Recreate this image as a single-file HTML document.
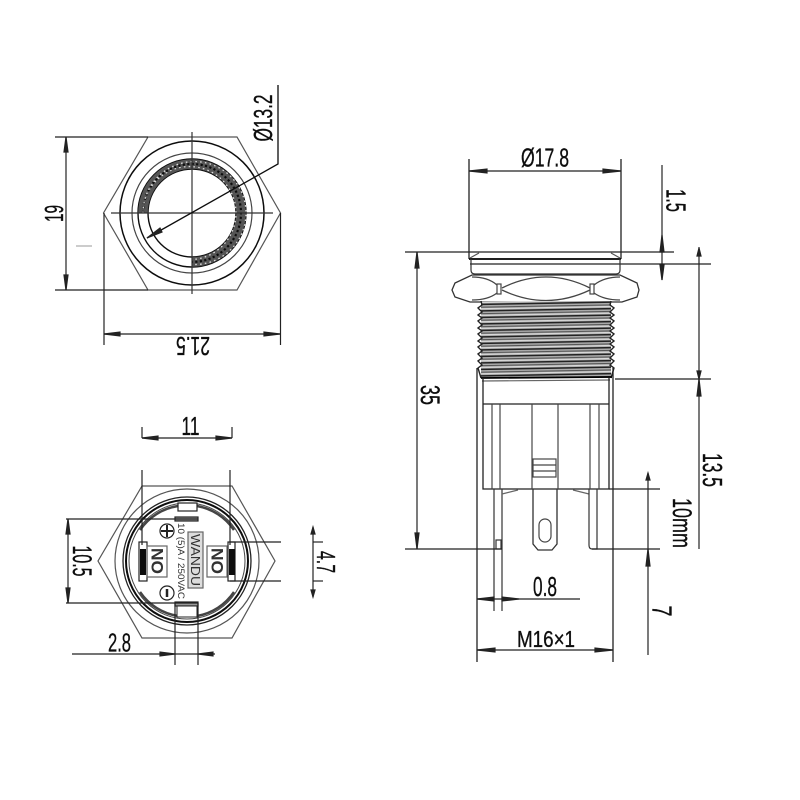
<!DOCTYPE html>
<html><head><meta charset="utf-8"><style>
html,body{margin:0;padding:0;background:#fff}
svg{display:block}
text{font-family:"Liberation Sans",sans-serif;fill:#111;stroke:#111;stroke-width:.35;text-anchor:middle;dominant-baseline:central}
text.s{fill:#333;stroke:none}
</style></head><body>
<svg width="800" height="800" viewBox="0 0 800 800" xmlns="http://www.w3.org/2000/svg">
<defs>
<filter id="b" x="-5%" y="-5%" width="110%" height="110%"><feGaussianBlur stdDeviation="0.35"/></filter>
<pattern id="th" width="20" height="6.5" patternUnits="userSpaceOnUse" patternTransform="rotate(-1)">
<rect width="20" height="6.5" fill="#aaa"/><rect y="0" width="20" height="1.5" fill="#222"/><rect y="3" width="20" height="1.1" fill="#555"/><rect y="4.8" width="20" height=".8" fill="#eee"/>
</pattern>
</defs>
<g filter="url(#b)" fill="none" stroke="#222" stroke-width="1.2">

<!-- TOP VIEW -->
<polygon points="148,137 237,137 280.5,213 237,290 148,290 103.5,213" stroke="#555"/>
<circle cx="192" cy="213" r="72" stroke-width="1.5" stroke="#111"/>
<circle cx="192" cy="213" r="60" stroke="#444"/>
<circle cx="192" cy="213" r="54" stroke-width="1.4" stroke="#111"/>
<circle cx="192" cy="213" r="44" stroke-width="1.4" stroke="#111"/>
<path d="M143,213 A49,49 0 1 1 192,262" stroke="#555" stroke-width="9.5"/>
<path d="M143,213 A46.5,46.5 0 1 1 192,259.5" stroke="#ddd" stroke-width="1.3" stroke-dasharray="1.6 3.2"/>
<path d="M143,213 A49,49 0 1 1 192,262" stroke="#111" stroke-width="2.2" stroke-dasharray="2.2 2.3"/>
<path d="M143,213 A51.5,51.5 0 1 1 192,264.5" stroke="#ddd" stroke-width="1.3" stroke-dasharray="1.6 3.2"/>
<line x1="192" y1="132" x2="192" y2="294" stroke="#333"/>
<line x1="111" y1="213" x2="273" y2="213" stroke="#333"/>
<line x1="55" y1="137" x2="148" y2="137"/>
<line x1="55" y1="290" x2="148" y2="290"/>
<line x1="66" y1="137" x2="66" y2="290"/>
<polygon points="66,137 64,152 68,152" fill="#222"/>
<polygon points="66,290 64,275 68,275" fill="#222"/>
<line x1="104" y1="213" x2="104" y2="345"/>
<line x1="280.5" y1="213" x2="280.5" y2="345"/>
<line x1="104" y1="334" x2="280" y2="334"/>
<polygon points="104,334 120,332 120,336" fill="#222"/>
<polygon points="280,334 264,332 264,336" fill="#222"/>
<polyline points="147,238 278,164 278,85" stroke="#111" stroke-width="1.3"/>
<polygon points="147,238 160,228 162,232" fill="#222"/>
<line x1="76" y1="246" x2="92" y2="246" stroke="#aaa"/>

<!-- BOTTOM VIEW -->
<polygon points="142,486 232,486 275,561 232,638 142,638 98,561" stroke="#555"/>
<circle cx="187" cy="561" r="72" stroke="#555"/>
<circle cx="187" cy="561" r="64" stroke-width="1.3"/>
<circle cx="187" cy="561" r="61" stroke-width="2" stroke="#111"/>
<circle cx="187" cy="561" r="58" stroke-width="1" stroke="#444"/>
<path d="M140,530 A56,56 0 0 1 178,506 M197,506 A56,56 0 0 1 234,530 M140,592 A56,56 0 0 0 178,616 M197,616 A56,56 0 0 0 234,592" stroke="#444" stroke-width="2.5"/>
<rect x="178" y="503" width="19" height="8" fill="#fff" stroke-width="1.2"/>
<rect x="175" y="517" width="23" height="4" fill="#999" stroke-width="1.2"/>
<rect x="175" y="602" width="23" height="4" fill="#999" stroke-width="1.2"/>
<rect x="177" y="606" width="20" height="11" fill="#fff" stroke-width="1"/>
<rect x="139" y="542" width="8" height="39" fill="#fff"/>
<rect x="140" y="549" width="6" height="26" fill="#111" stroke="none"/>
<rect x="228" y="542" width="7" height="39" fill="#fff"/>
<rect x="229" y="549" width="6" height="26" fill="#111" stroke="none"/>
<rect x="147" y="546" width="20" height="31" stroke="#666"/>
<rect x="207" y="546" width="20" height="31" stroke="#666"/>
<rect x="188" y="532" width="15" height="56" stroke="#666" fill="#ddd"/>
<circle cx="167" cy="531" r="7"/>
<line x1="161" y1="531" x2="173" y2="531" stroke-width="2"/>
<line x1="167" y1="525" x2="167" y2="537" stroke-width="2"/>
<circle cx="167" cy="593" r="7"/>
<line x1="167" y1="589" x2="167" y2="597" stroke-width="2.5"/>
<line x1="142" y1="470" x2="142" y2="545"/>
<line x1="230" y1="470" x2="230" y2="545"/>
<line x1="142" y1="427" x2="142" y2="438"/>
<line x1="232" y1="427" x2="232" y2="438"/>
<line x1="142" y1="438" x2="232" y2="438"/>
<polygon points="142,438 158,436 158,440" fill="#222"/>
<polygon points="232,438 216,436 216,440" fill="#222"/>
<line x1="66" y1="519" x2="198" y2="519"/>
<line x1="66" y1="603" x2="198" y2="603"/>
<line x1="68" y1="519" x2="68" y2="603"/>
<polygon points="68,519 66,534 70,534" fill="#222"/>
<polygon points="68,603 66,588 70,588" fill="#222"/>
<line x1="230" y1="542" x2="281" y2="542"/>
<line x1="230" y1="581" x2="281" y2="581"/>
<line x1="313" y1="527" x2="313" y2="597"/>
<line x1="313" y1="542" x2="323" y2="542"/>
<line x1="313" y1="581" x2="323" y2="581"/>
<polygon points="313,527 311,534 315,534" fill="#222"/>
<polygon points="313,597 311,590 315,590" fill="#222"/>
<line x1="175" y1="603" x2="175" y2="665"/>
<line x1="198" y1="603" x2="198" y2="665"/>
<line x1="72" y1="654" x2="215" y2="654"/>
<polygon points="175,654 160,652 160,656" fill="#222"/>
<polygon points="198,654 213,652 213,656" fill="#222"/>

<!-- SIDE VIEW -->
<line x1="469" y1="159" x2="469" y2="259" stroke-width="1.3"/>
<line x1="621" y1="159" x2="621" y2="259" stroke-width="1.3"/>
<line x1="469" y1="171" x2="621" y2="171"/>
<polygon points="469,171 487,169 487,173" fill="#222"/>
<polygon points="621,171 603,169 603,173" fill="#222"/>
<line x1="405" y1="252" x2="674" y2="252"/>
<line x1="469" y1="259" x2="621" y2="259" stroke-width="1.8" stroke="#000"/>
<path d="M470,258 L479,253 M620,258 L611,253" stroke="#555"/>
<line x1="470" y1="264" x2="711" y2="264"/>
<path d="M471,259 V270 Q471,274 475,274 H616 Q620,274 620,270 V259" stroke="#333"/>
<line x1="662" y1="165" x2="662" y2="280"/>
<polygon points="662,235 660,252 664,252" fill="#222"/>
<polygon points="662,280 660,265 664,265" fill="#222"/>
<!-- nut -->
<path d="M472,275 H620 L637,283 L639,290 L637,297 L622,302 H470 L455,297 L452,290 L455,283 Z" stroke="#333" stroke-width="1.3" fill="#fff"/>
<path d="M472,277 Q488,277 497,285 M472,300 Q488,300 497,293 M620,277 Q604,277 594,285 M620,300 Q604,300 594,293" stroke="#444"/>
<path d="M502,288 Q546,266 590,288 M502,290 Q546,311 590,290" stroke="#444" stroke-width="1.3"/>
<rect x="497" y="284" width="4" height="10" stroke="#444"/>
<rect x="590" y="284" width="4" height="10" stroke="#444"/>
<!-- thread -->
<rect x="481" y="301" width="130" height="77" fill="url(#th)" stroke="none"/>
<path d="M481,301 L482,305 L478,308 L482,312 L478,315 L482,318 L478,321 L482,325 L478,328 L482,331 L478,334 L482,338 L478,341 L482,344 L478,347 L482,351 L478,354 L482,358 L478,361 L482,365 L478,368 L481,378" stroke-width="1.4" stroke="#222"/>
<path d="M611,301 L610,305 L614,308 L610,312 L614,315 L610,318 L614,321 L610,325 L614,328 L610,331 L614,334 L610,338 L614,341 L610,344 L614,347 L610,351 L614,354 L610,358 L614,361 L610,365 L614,368 L611,378" stroke-width="1.4" stroke="#222"/>
<line x1="481" y1="378" x2="612" y2="377" stroke-width="1.8" stroke="#000"/>
<line x1="482" y1="381" x2="610" y2="380" stroke="#666"/>
<line x1="615" y1="379" x2="711" y2="379"/>
<!-- body -->
<line x1="477" y1="368" x2="477" y2="662" stroke="#222" stroke-width="1.3"/>
<line x1="613" y1="368" x2="613" y2="662" stroke="#222" stroke-width="1.3"/>
<path d="M483,378 V489 H609 V378" stroke-width="1.3"/>
<line x1="483" y1="404" x2="609" y2="404"/>
<line x1="492" y1="404" x2="492" y2="489" stroke="#444"/>
<line x1="500" y1="404" x2="500" y2="489" stroke="#444"/>
<line x1="532" y1="404" x2="532" y2="489" stroke="#444"/>
<line x1="558" y1="404" x2="558" y2="489" stroke="#444"/>
<line x1="590" y1="404" x2="590" y2="489" stroke="#444"/>
<line x1="599" y1="404" x2="599" y2="489" stroke="#444"/>
<rect x="533" y="459" width="23" height="18" stroke="#444" stroke-width="1.2"/>
<line x1="533" y1="465" x2="556" y2="465" stroke="#444"/>
<line x1="533" y1="471" x2="556" y2="471" stroke="#444"/>
<path d="M533,489 V544 L538,550 H552 L557,544 V489" stroke="#333" stroke-width="1.3"/>
<rect x="539" y="519" width="12" height="23" rx="6" stroke="#444" stroke-width="1.2"/>
<path d="M494,489 V611 M502,489 V611" stroke="#333"/>
<rect x="496" y="540" width="5" height="9" stroke="#333"/>
<path d="M502,494 L518,490 M589,494 L573,490" stroke="#666"/>
<path d="M589,489 V545 Q589,549 592,549 H597 V489" stroke="#333"/>
<line x1="405" y1="549" x2="502" y2="549"/>
<line x1="592" y1="549" x2="660" y2="549"/>
<line x1="609" y1="489" x2="660" y2="489"/>
<line x1="417" y1="252" x2="417" y2="549"/>
<polygon points="417,252 415,268 419,268" fill="#222"/>
<polygon points="417,549 415,533 419,533" fill="#222"/>
<line x1="699" y1="247" x2="699" y2="549"/>
<polygon points="699,248 697,256 701,256" fill="#222"/>
<polygon points="699,379 697,396 701,396" fill="#222"/>
<polygon points="699,379 697,371 701,371" fill="#222"/>
<line x1="648" y1="473" x2="648" y2="655"/>
<polygon points="648,473 646,480 650,480" fill="#222"/>
<polygon points="648,549 646,566 650,566" fill="#222"/>
<line x1="477" y1="599" x2="580" y2="599"/>
<polygon points="477,599 494,597 494,601" fill="#222"/>
<polygon points="519,599 502,597 502,601" fill="#222"/>
<line x1="477" y1="650" x2="613" y2="650"/>
<polygon points="477,650 495,648 495,652" fill="#222"/>
<polygon points="613,650 595,648 595,652" fill="#222"/>

<!-- TEXT -->
<text transform="translate(54,213.5) rotate(-90)" font-size="26" textLength="17" lengthAdjust="spacingAndGlyphs">19</text>
<text transform="translate(263,118) rotate(-90)" font-size="26" textLength="47" lengthAdjust="spacingAndGlyphs">Ø13.2</text>
<text transform="translate(193,346) rotate(180)" font-size="26" textLength="34" lengthAdjust="spacingAndGlyphs">21.5</text>
<text x="190.5" y="426" font-size="26" textLength="18" lengthAdjust="spacingAndGlyphs">11</text>
<text transform="translate(82,561) rotate(90)" font-size="27" textLength="31" lengthAdjust="spacingAndGlyphs">10.5</text>
<text transform="translate(326,562) rotate(90)" font-size="26" textLength="22" lengthAdjust="spacingAndGlyphs">4.7</text>
<text x="119.5" y="642.5" font-size="26" textLength="23" lengthAdjust="spacingAndGlyphs">2.8</text>
<text class="s" transform="translate(157,561) rotate(90)" font-size="17" font-weight="bold" textLength="26" lengthAdjust="spacingAndGlyphs">NO</text>
<text class="s" transform="translate(217,561) rotate(90)" font-size="17" font-weight="bold" textLength="26" lengthAdjust="spacingAndGlyphs">NO</text>
<text class="s" transform="translate(195.5,560) rotate(90)" font-size="13" textLength="52" lengthAdjust="spacingAndGlyphs">WANDU</text>
<text class="s" transform="translate(181,561) rotate(90)" font-size="9" textLength="76" lengthAdjust="spacingAndGlyphs">10 (5)A / 250VAC</text>
<text x="545" y="157.5" font-size="26" textLength="48" lengthAdjust="spacingAndGlyphs">Ø17.8</text>
<text transform="translate(676,200.5) rotate(90)" font-size="28" textLength="23" lengthAdjust="spacingAndGlyphs">1.5</text>
<text transform="translate(430,395) rotate(90)" font-size="27" textLength="20" lengthAdjust="spacingAndGlyphs">35</text>
<text transform="translate(712.5,470) rotate(90)" font-size="28" textLength="34" lengthAdjust="spacingAndGlyphs">13.5</text>
<text transform="translate(682,523) rotate(90)" font-size="27" textLength="50" lengthAdjust="spacingAndGlyphs">10mm</text>
<text transform="translate(662,611) rotate(90)" font-size="28" textLength="11" lengthAdjust="spacingAndGlyphs">7</text>
<text x="545" y="586.5" font-size="28" textLength="24" lengthAdjust="spacingAndGlyphs">0.8</text>
<text x="546" y="639" font-size="23" textLength="58" lengthAdjust="spacingAndGlyphs">M16×1</text>
</g>
</svg>
</body></html>
